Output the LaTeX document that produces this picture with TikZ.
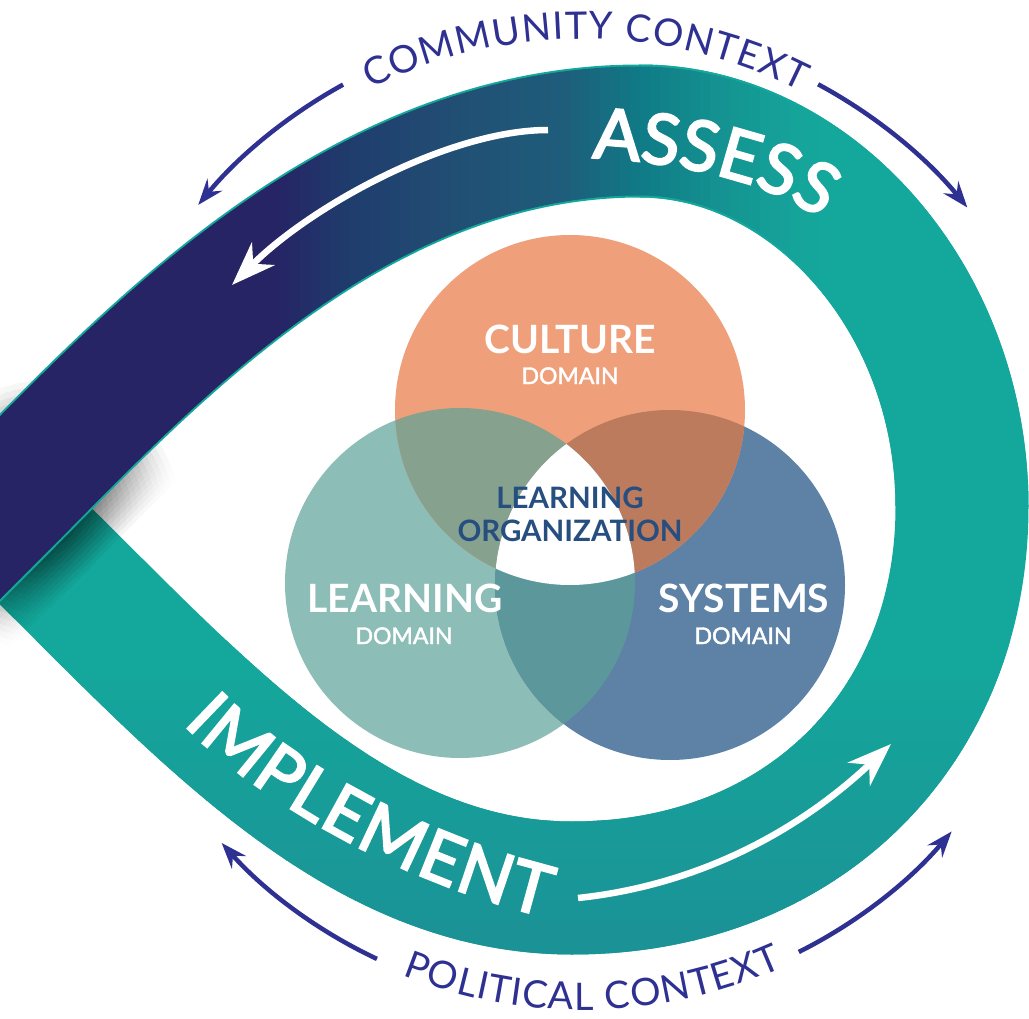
\documentclass[tikz,border=0pt]{standalone}
\usepackage{fontspec}
\setmainfont{Lato}
\newfontfamily\latosemi{Lato}[FakeBold=3]
\newfontfamily\latomed{Lato}[FakeBold=2]
\usetikzlibrary{arrows.meta,decorations.text,fadings,calc}

\definecolor{navyband}{RGB}{38,36,100}
\definecolor{tealband}{RGB}{20,168,156}
\definecolor{tealdark}{RGB}{27,146,150}
\definecolor{ctx}{RGB}{46,49,146}
\definecolor{cult}{RGB}{239,160,122}
\definecolor{learn}{RGB}{140,189,183}
\definecolor{syst}{RGB}{93,130,166}
\definecolor{clx}{RGB}{135,161,143}
\definecolor{csx}{RGB}{189,123,94}
\definecolor{lsx}{RGB}{92,151,155}
\definecolor{lotext}{RGB}{38,79,128}

\pgfmathdeclarefunction{clampf}{3}{\pgfmathparse{min(1,max(0,(#1-#2)/(#3-#2)))}}

\newcommand\tealarm[1]{\draw[#1] (-107,-410) -- (-2,-510) .. controls (179,-682) and (342,-888) .. (572,-888) .. controls (805,-888) and (962,-725) .. (962,-507) .. controls (962,-297) and (810,-131) .. (640,-131);}
\newcommand\darkarm[1]{\draw[#1] (962,-507) .. controls (962,-297) and (810,-131) .. (640,-131) .. controls (350,-131) and (139,-369) .. (-2,-510) -- (-100,-608);}

\tikzfading[name=shfade, inner color=transparent!0, outer color=transparent!100]

\newcommand\bandfont{\latosemi\fontsize{70}{70}\selectfont}
\newcommand\ctxfont{\fontsize{38}{38}\selectfont}

\begin{document}
\begin{tikzpicture}[x=1pt,y=1pt,line cap=butt,
  ctxarrow/.style={draw=ctx, line width=4.5pt, -{Stealth[length=26pt,width=19pt,inset=9pt]}},
  wharrow/.style={draw=white, line width=6.5pt, -{Stealth[length=44pt,width=32pt,inset=14pt]}},
  venntitle/.style={anchor=base, text=white, inner sep=0pt, font=\fontsize{39}{39}\selectfont\bfseries},
  venndom/.style={anchor=base, text=white, inner sep=0pt, font=\latomed\fontsize{23}{23}\selectfont},
  lotitle/.style={anchor=base, text=lotext, inner sep=0pt, font=\fontsize{29.5}{30}\selectfont\bfseries}]
\useasboundingbox (0,0) rectangle (1029,-1019);
\clip (0,0) rectangle (1029,-1019);
\fill[white] (0,0) rectangle (1029,-1019);

% ---- teal arm (implement side) ----
\tealarm{tealband, line width=133pt}
\foreach \k in {0,...,15} {
  \pgfmathsetmacro\ya{-640-20*\k}
  \pgfmathtruncatemacro\pc{100-\k*100/15}
  \begin{scope}
    \clip (-200,\ya) rectangle (1200,\ya-20.5);
    \colorlet{tstrip}{tealband!\pc!tealdark}
    \tealarm{tstrip, line width=133pt}
  \end{scope}
}

% ---- shadow of the crossing ----
\foreach \w in {140,148,...,212} {
  \darkarm{black, opacity=0.09, line width=\w pt, path fading=shfade, fit fading=false, fading transform={shift={(45,-515)}, scale=5.5}}
}

% ---- dark arm (assess side) with horizontal gradient ----
\darkarm{tealband, line width=133pt}
\foreach \i in {0,...,86} {
  \pgfmathsetmacro\xa{\i*10-20}
  \pgfmathsetmacro\xm{\xa+5}
  \pgfmathtruncatemacro\cR{round(38-7*clampf(\xm,280,340)+2*clampf(\xm,340,450)-2*clampf(\xm,450,560)-15*clampf(\xm,560,640)+4*clampf(\xm,640,720)+1*clampf(\xm,720,800)-1*clampf(\xm,800,840))}
  \pgfmathtruncatemacro\cG{round(36+22*clampf(\xm,280,340)+20*clampf(\xm,340,450)+14*clampf(\xm,450,560)+30*clampf(\xm,560,640)+24*clampf(\xm,640,720)+19*clampf(\xm,720,800)+3*clampf(\xm,800,840))}
  \pgfmathtruncatemacro\cB{round(100+8*clampf(\xm,280,340)+8*clampf(\xm,340,450)+6*clampf(\xm,450,560)+12*clampf(\xm,560,640)+11*clampf(\xm,640,720)+10*clampf(\xm,720,800)+1*clampf(\xm,800,840))}
  \definecolor{stripc}{RGB}{\cR,\cG,\cB}
  \begin{scope}
    \clip (\xa,-1100) rectangle (\xa+10.5,100);
    \darkarm{stripc, line width=129pt}
  \end{scope}
}

% ---- white arrows inside the band ----
\coordinate (wa1) at (548,-130);
\coordinate (wa2) at (232,-285);
\draw[wharrow] (wa1) .. controls (450,-130) and (312,-205) .. (wa2);
\coordinate (wb1) at (578,-898);
\coordinate (wb2) at (891,-744);
\draw[wharrow] (wb1) .. controls (700,-885) and (800,-830) .. (wb2);

% ---- band labels ----
\path[decorate, decoration={text along path, text={|\bandfont|ASSESS}, text color=white, text align={fit to path}}]
  (592,-158) .. controls (672,-162) and (756,-177) .. (815,-215);
\path[decorate, decoration={text along path, text={|\bandfont|IMPLEMENT}, text color=white, text align={fit to path}}]
  (183,-724) .. controls (275,-816) and (419,-886) .. (545,-917);

% ---- context arrows and labels ----
\coordinate (O) at (583,-521);
\draw[ctxarrow] ($(O)+(118.8:498)$) arc[start angle=118.8, end angle=140.6, radius=498];
\draw[ctxarrow] ($(O)+(61.7:496)$) arc[start angle=61.7, end angle=39.2, radius=496];
\draw[ctxarrow] ($(O)+(244.8:484)$) arc[start angle=244.8, end angle=221.7, radius=484];
\draw[ctxarrow] ($(O)+(296.6:482)$) arc[start angle=296.6, end angle=319.9, radius=482];
\path[decorate, decoration={text along path, text={|\ctxfont|COMMUNITY CONTEXT}, text color=ctx, text align={fit to path}}]
  ($(O)+(116.2:482)$) arc[start angle=116.2, end angle=63.2, radius=482];
\path[decorate, decoration={text along path, text={|\ctxfont|POLITICAL CONTEXT}, text color=ctx, text align={fit to path}}]
  ($(O)+(248.35:489)$) arc[start angle=248.35, end angle=294.1, radius=489];

% ---- Venn diagram ----
\fill[learn] (460,-583) circle (175);
\fill[syst] (670,-585) circle (175);
\fill[cult] (570,-410) circle (175);
\begin{scope}
  \clip (570,-410) circle (175);
  \fill[clx] (460,-583) circle (175);
  \fill[csx] (670,-585) circle (175);
\end{scope}
\begin{scope}
  \clip (460,-583) circle (175);
  \fill[lsx] (670,-585) circle (175);
\end{scope}
\begin{scope}
  \clip (570,-410) circle (175);
  \clip (460,-583) circle (175);
  \fill[white] (670,-585) circle (175);
\end{scope}

\node[venntitle] (cul) at (570,-353) {CULTURE};
\node[venndom] (culd) at (570,-384) {DOMAIN};
\node[venntitle] (lea) at (405,-612) {LEARNING};
\node[venndom] (lead) at (404,-644) {DOMAIN};
\node[venntitle] (sys) at (744,-612) {SYSTEMS};
\node[venndom] (sysd) at (743,-644) {DOMAIN};
\node[lotitle] (lo1) at (570,-508) {LEARNING};
\node[lotitle] (lo2) at (570,-541.5) {ORGANIZATION};
\end{tikzpicture}
\end{document}
